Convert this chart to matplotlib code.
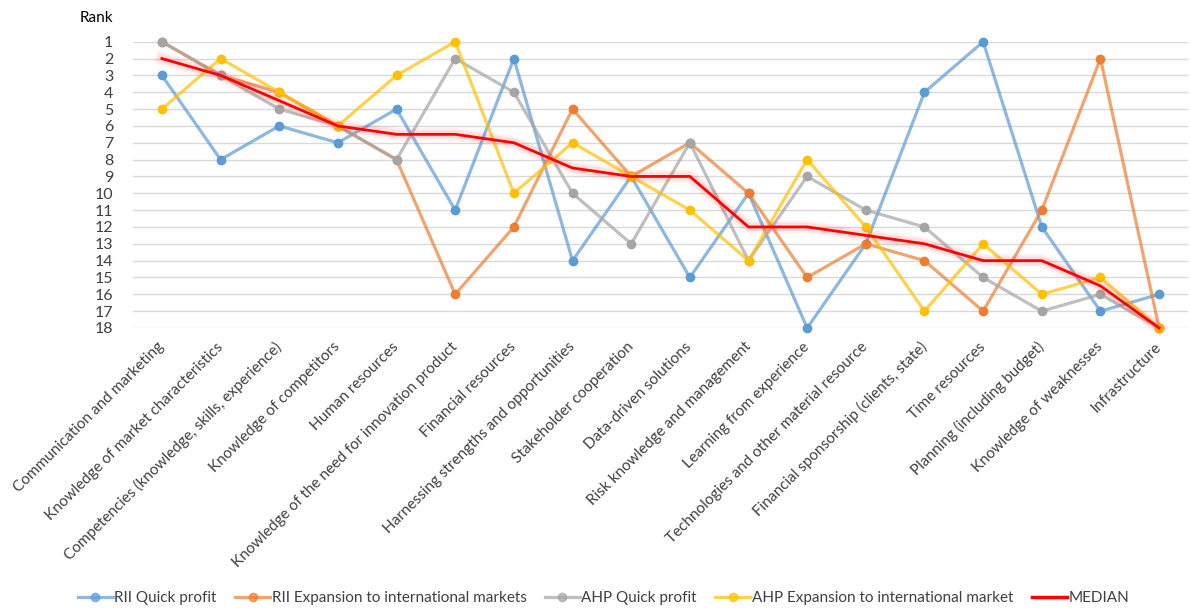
import matplotlib
matplotlib.use("Agg")
import matplotlib.pyplot as plt
import matplotlib.patheffects as pe
from matplotlib.lines import Line2D

plt.rcParams['font.family'] = ['Lato', 'DejaVu Sans']

categories = [
    "Communication and marketing",
    "Knowledge of market characteristics",
    "Competencies (knowledge, skills, experience)",
    "Knowledge of competitors",
    "Human resources",
    "Knowledge of the need for innovation product",
    "Financial resources",
    "Harnessing strengths and opportunities",
    "Stakeholder cooperation",
    "Data-driven solutions",
    "Risk knowledge and management",
    "Learning from experience",
    "Technologies and other material resource",
    "Financial sponsorship (clients, state)",
    "Time resources",
    "Planning (including budget)",
    "Knowledge of weaknesses",
    "Infrastructure",
]

rii_quick = [3, 8, 6, 7, 5, 11, 2, 14, 9, 15, 10, 18, 13, 4, 1, 12, 17, 16]
rii_expansion = [1, 3, 4, 6, 8, 16, 12, 5, 9, 7, 10, 15, 13, 14, 17, 11, 2, 18]
ahp_quick = [1, 3, 5, 6, 8, 2, 4, 10, 13, 7, 14, 9, 11, 12, 15, 17, 16, 18]
ahp_expansion = [5, 2, 4, 6, 3, 1, 10, 7, 9, 11, 14, 8, 12, 17, 13, 16, 15, 18]
median = [2, 3, 4.5, 6, 6.5, 6.5, 7, 8.5, 9, 9, 12, 12, 12.5, 13, 14, 14, 15.5, 18]

series_names = ["RII Quick profit", "RII Expansion to international markets",
                "AHP Quick profit", "AHP Expansion to international market"]
series_values = [rii_quick, rii_expansion, ahp_quick, ahp_expansion]
series_colors = ["#5B9BD5", "#ED7D31", "#A5A5A5", "#FFC000"]
median_name = "MEDIAN"
median_color = "#FF0000"
y_ticks = list(range(1, 19))

fig = plt.figure(figsize=(11.9, 6.1), dpi=100)
ax = fig.add_axes([0.1114, 0.4623, 0.9987 - 0.1114, 0.9316 - 0.4623])

x = list(range(len(categories)))
handles = []
for name, vals, col in zip(series_names, series_values, series_colors):
    ax.plot(x, vals, color=col, lw=2.3, alpha=0.7, zorder=3,
            solid_joinstyle='round', clip_on=False)
    ax.plot(x, vals, ls='none', marker='o', ms=6, color=col, zorder=3.1,
            clip_on=False)
    handles.append(Line2D([0], [0], color=col, lw=2.3, alpha=0.7, marker='o',
                          markersize=6, markerfacecolor=col, markeredgecolor=col))

ax.plot(x, median, color=median_color, lw=2.0, zorder=4, clip_on=False,
        path_effects=[pe.Stroke(linewidth=9, foreground='#FF0000', alpha=0.06),
                      pe.Stroke(linewidth=6, foreground='#FF0000', alpha=0.08),
                      pe.Normal()])
handles.append(Line2D([0], [0], color=median_color, lw=2.5))

ax.set_xlim(-0.5, len(categories) - 0.5)
ax.set_ylim(18, 1)
ax.set_yticks(y_ticks)
ax.set_yticklabels([str(v) for v in y_ticks], fontsize=11.5, color='#404040')
ax.set_xticks(x)
ax.set_xticklabels(categories, rotation=45, ha='right', va='center',
                   rotation_mode='anchor', fontsize=11, color='#404040')
ax.tick_params(axis='both', length=0)
ax.tick_params(axis='y', pad=14)
ax.tick_params(axis='x', pad=12)
for s in ax.spines.values():
    s.set_visible(False)
ax.grid(axis='y', color='#D9D9D9', lw=1.0, zorder=0)
ax.set_axisbelow(True)

fig.text(80 / 1190, 1 - 18 / 610, "Rank", fontsize=11, color='#000000',
         ha='left', va='center')

fig.legend(handles, series_names + [median_name], loc='center',
           bbox_to_anchor=(0.507, 1 - 598 / 610), ncol=5, frameon=False,
           fontsize=11, labelcolor='#404040', handlelength=2.3,
           handletextpad=0.1, columnspacing=1.2)

fig.savefig("out.png", dpi=100)
